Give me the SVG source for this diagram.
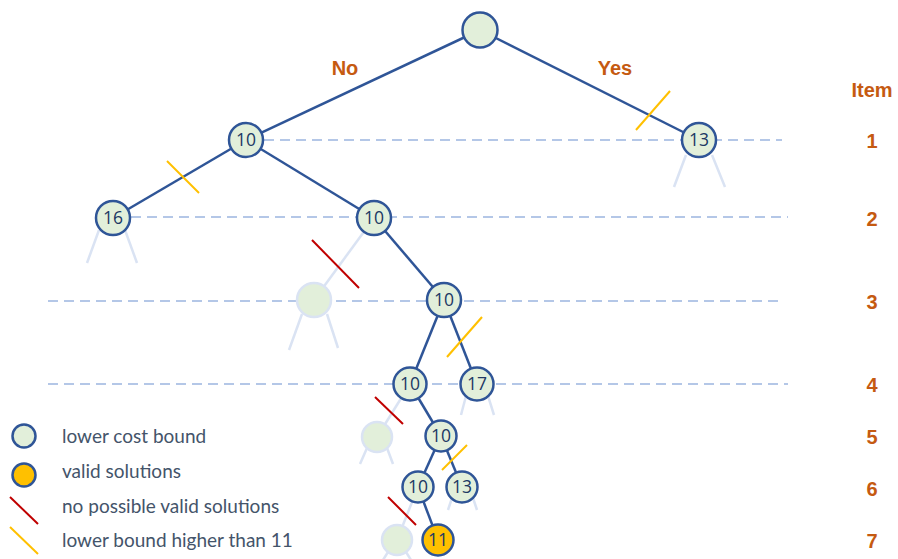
<svg xmlns="http://www.w3.org/2000/svg" width="898" height="559" viewBox="0 0 898 559">
  <style>
    .level { stroke: #b4c7e7; stroke-width: 1.8; stroke-dasharray: 10 6; fill: none; }
    .edge { stroke: #2f5597; stroke-width: 2.5; fill: none; }
    .pruned { stroke: #dae3f3; stroke-width: 2.5; fill: none; }
    .node { fill: #e2efda; stroke: #2f5597; stroke-width: 2.5; }
    .ghost { fill: #e2efda; stroke: #dae3f3; stroke-width: 2.5; }
    .sol { fill: #ffc000; stroke: #2f5597; stroke-width: 2.5; }
    .num { font-family: "Open Sans", "Noto Sans", sans-serif; font-size: 17.5px; fill: #203864; text-anchor: middle; }
    .infeasible { stroke: #c00000; stroke-width: 2; }
    .bound { stroke: #ffc000; stroke-width: 2; }
    .head { font-family: "Liberation Sans", Arial, sans-serif; font-weight: bold; font-size: 20px; fill: #c55a11; text-anchor: middle; }
    .legend { font-family: Lato, "Open Sans", sans-serif; font-size: 19px; fill: #44546a; }
  </style>

  <!-- item level guides -->
  <g id="levels">
    <line class="level" x1="264" y1="140" x2="782" y2="140"/>
    <line class="level" x1="131" y1="217" x2="788" y2="217"/>
    <line class="level" x1="48" y1="301" x2="782" y2="301"/>
    <line class="level" x1="48" y1="384" x2="788" y2="384"/>
  </g>

  <!-- tree connectors -->
  <g id="connectors">
    <line class="edge" x1="480" y1="30" x2="246" y2="140"/>
    <line class="edge" x1="480" y1="30" x2="699" y2="140"/>
    <line class="edge" x1="246" y1="140" x2="113" y2="218"/>
    <line class="edge" x1="246" y1="140" x2="374" y2="218"/>
    <line class="pruned" x1="374" y1="218" x2="314" y2="300"/>
    <line class="edge" x1="374" y1="218" x2="444" y2="300"/>
    <line class="edge" x1="444" y1="300" x2="410" y2="384"/>
    <line class="edge" x1="444" y1="300" x2="477" y2="384"/>
    <line class="pruned" x1="410" y1="384" x2="377" y2="437"/>
    <line class="edge" x1="410" y1="384" x2="441" y2="436"/>
    <line class="edge" x1="441" y1="436" x2="418" y2="487"/>
    <line class="edge" x1="441" y1="436" x2="462" y2="487"/>
    <line class="pruned" x1="418" y1="487" x2="397" y2="540"/>
    <line class="edge" x1="418" y1="487" x2="438" y2="540"/>
    <!-- unexplored branches below pruned nodes -->
    <line class="pruned" x1="686" y1="155" x2="674" y2="187"/>
    <line class="pruned" x1="712" y1="155" x2="725" y2="187"/>
    <line class="pruned" x1="99" y1="230" x2="87" y2="263"/>
    <line class="pruned" x1="125" y1="230" x2="137" y2="263"/>
    <line class="pruned" x1="302" y1="314" x2="289" y2="350"/>
    <line class="pruned" x1="327" y1="314" x2="338" y2="348"/>
    <line class="pruned" x1="466" y1="396" x2="461" y2="415"/>
    <line class="pruned" x1="488" y1="396" x2="494" y2="415"/>
    <line class="pruned" x1="367" y1="448" x2="360" y2="464"/>
    <line class="pruned" x1="387" y1="448" x2="393" y2="464"/>
    <line class="pruned" x1="452" y1="498" x2="448" y2="510"/>
    <line class="pruned" x1="473" y1="498" x2="477" y2="510"/>
    <line class="pruned" x1="388" y1="552" x2="383" y2="560"/>
    <line class="pruned" x1="406" y1="552" x2="411" y2="560"/>
  </g>

  <!-- cut marks -->
  <g id="cuts">
    <line class="bound" x1="636" y1="130" x2="670" y2="91"/>
    <line class="bound" x1="167" y1="161" x2="199" y2="193"/>
    <line class="bound" x1="482" y1="317" x2="447" y2="357"/>
    <line class="bound" x1="467" y1="445" x2="442" y2="470"/>
    <line class="infeasible" x1="312" y1="240" x2="359" y2="288"/>
    <line class="infeasible" x1="375" y1="397" x2="403" y2="424"/>
    <line class="infeasible" x1="388" y1="497" x2="416" y2="525"/>
  </g>

  <!-- nodes -->
  <g id="root"><circle class="node" cx="480" cy="30" r="17.5"/></g>
  <g id="n1-no"><circle class="node" cx="246" cy="140" r="17"/><text class="num" x="246" y="146">10</text></g>
  <g id="n1-yes"><circle class="node" cx="699" cy="140" r="17"/><text class="num" x="699" y="146">13</text></g>
  <g id="n2-a"><circle class="node" cx="113" cy="218" r="17"/><text class="num" x="113" y="224">16</text></g>
  <g id="n2-b"><circle class="node" cx="374" cy="218" r="17"/><text class="num" x="374" y="224">10</text></g>
  <g id="n3-a"><circle class="ghost" cx="314" cy="300" r="17"/></g>
  <g id="n3-b"><circle class="node" cx="444" cy="300" r="17"/><text class="num" x="444" y="306">10</text></g>
  <g id="n4-a"><circle class="node" cx="410" cy="384" r="16.5"/><text class="num" x="410" y="390">10</text></g>
  <g id="n4-b"><circle class="node" cx="477" cy="384" r="16.5"/><text class="num" x="477" y="390">17</text></g>
  <g id="n5-a"><circle class="ghost" cx="377" cy="437" r="15"/></g>
  <g id="n5-b"><circle class="node" cx="441" cy="436" r="15.5"/><text class="num" x="441" y="442">10</text></g>
  <g id="n6-a"><circle class="node" cx="418" cy="487" r="15.5"/><text class="num" x="418" y="493">10</text></g>
  <g id="n6-b"><circle class="node" cx="462" cy="487" r="15.5"/><text class="num" x="462" y="493">13</text></g>
  <g id="n7-a"><circle class="ghost" cx="397" cy="540" r="15"/></g>
  <g id="n7-b"><circle class="sol" cx="438" cy="540" r="15.5"/><text class="num" x="438" y="546">11</text></g>

  <!-- branch and item labels -->
  <g id="labels">
    <text class="head" x="345" y="75">No</text>
    <text class="head" x="615" y="75">Yes</text>
    <text class="head" x="872" y="97">Item</text>
    <text class="head" x="872" y="148">1</text>
    <text class="head" x="872" y="226">2</text>
    <text class="head" x="872" y="309">3</text>
    <text class="head" x="872" y="392">4</text>
    <text class="head" x="872" y="444">5</text>
    <text class="head" x="872" y="496">6</text>
    <text class="head" x="872" y="548">7</text>
  </g>

  <!-- legend -->
  <g id="legend">
    <circle class="node" cx="24" cy="436" r="11.5"/>
    <text class="legend" x="62" y="443">lower cost bound</text>
    <circle class="sol" cx="24" cy="475" r="11.5"/>
    <text class="legend" x="62" y="478">valid solutions</text>
    <line class="infeasible" x1="10" y1="497" x2="38" y2="524"/>
    <text class="legend" x="62" y="513">no possible valid solutions</text>
    <line class="bound" x1="10" y1="527" x2="38" y2="554"/>
    <text class="legend" x="62" y="547">lower bound higher than 11</text>
  </g>
</svg>
